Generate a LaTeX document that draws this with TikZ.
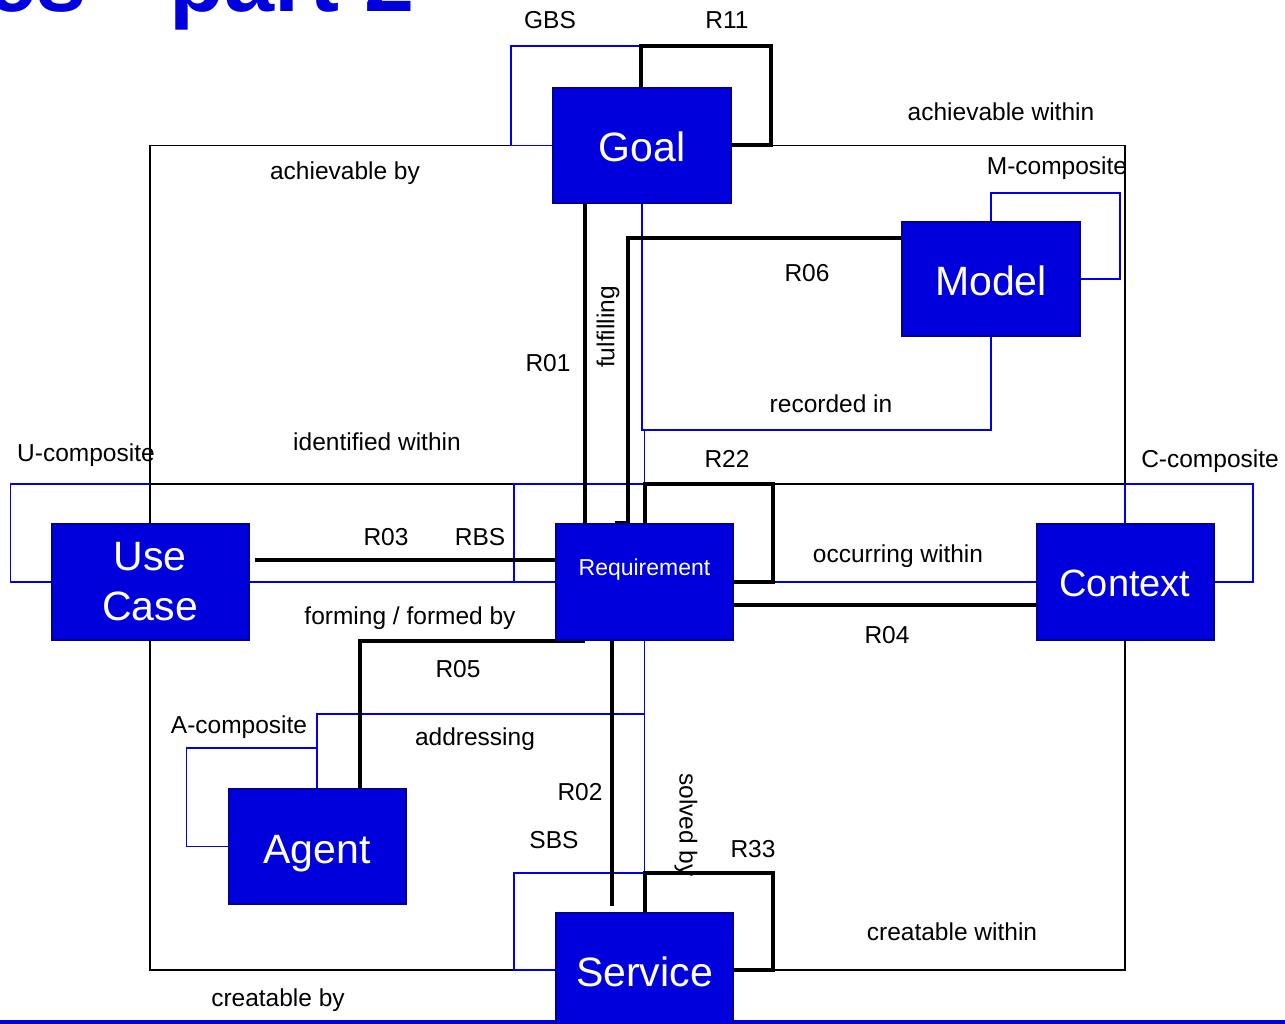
\documentclass[tikz,border=0pt]{standalone}
\usepackage{fontspec}
\setmainfont{Liberation Sans}
\usetikzlibrary{calc}
\definecolor{boxfill}{RGB}{0,0,221}
\definecolor{boxedge}{RGB}{0,0,150}
\definecolor{lnblue}{RGB}{0,0,235}
\pgfdeclarelayer{paper}
\pgfdeclarelayer{bg}
\pgfsetlayers{paper,bg,main}
\begin{document}
\begin{tikzpicture}[x=1pt,y=-1pt,
  entity/.style={draw=boxedge, fill=boxfill, line width=2pt, text=white, inner sep=0pt, align=center, font=\fontsize{41}{50}\selectfont},
  oneline/.style={text height=33pt, text depth=0pt},
  lbl/.style={inner sep=0pt, font=\fontsize{24.5}{28}\selectfont},
  thinlink/.style={draw=black, line width=1.4pt},
  bluelink/.style={draw=lnblue, line width=1.4pt},
  rel/.style={draw=black, line width=4pt, line join=miter},
]
\useasboundingbox (0,0) rectangle (1285,1024);
\clip (0,0) rectangle (1285,1024);
\begin{pgfonlayer}{paper}
  \fill[white] (0,0) rectangle (1285,1024);
  \fill[boxfill] (0,1019.5) rectangle (1285,1024);
\end{pgfonlayer}

% title (clipped at the top)
\node[anchor=base east, text=boxfill, inner sep=0pt, font=\fontsize{90}{90}\selectfont\bfseries] (title) at (415,12) {es\kern-17pt{} – part 2};

% entities
\node[entity, oneline, minimum width=178pt, minimum height=115pt] (goal) at (642,145.5) {Goal};
\node[entity, oneline, minimum width=178pt, minimum height=114pt] (model) at (991,279) {Model};
\node[entity, minimum width=177pt, minimum height=116pt, label={[text=white, inner sep=0pt, font=\fontsize{23}{26}\selectfont, yshift=12pt]center:Requirement}] (req) at (644.5,582) {};
\node[entity, minimum width=197pt, minimum height=116pt] (usecase) at (150,582) {Use\\Case};
\node[entity, oneline, text height=29pt, minimum width=177pt, minimum height=116pt, font=\fontsize{38}{44}\selectfont] (context) at (1125,582) {Context};
\node[entity, oneline, minimum width=177pt, minimum height=115pt] (agent) at (317,846.5) {Agent};
\node[entity, oneline, minimum width=177pt, minimum height=114pt] (service) at (644.5,970) {Service};

% helper coordinates
\coordinate (xA) at (585,0);
\coordinate (xB) at (612,0);
\coordinate (xC) at (628,0);
\coordinate (xD) at (615,0);
\coordinate (xF) at (641,0);
\coordinate (xG) at (642,0);
\coordinate (xH) at (360,0);
\coordinate (yT) at (0,46);
\coordinate (yA) at (0,238);
\coordinate (yR) at (0,430);
\coordinate (yD) at (0,484);
\coordinate (yB) at (0,560);
\coordinate (yC) at (0,605);
\coordinate (yS) at (0,714);
\coordinate (yU) at (0,748);
\coordinate (yV) at (0,873);

\begin{pgfonlayer}{bg}
  % thin black relations (frame)
  \draw[thinlink] (goal.west) -| (usecase.north);
  \draw[thinlink] (goal.east) -| (context.north);
  \draw[thinlink] (usecase.north) -- (usecase.north |- yD) -- (context.north |- yD) -- (context.north);
  \draw[thinlink] (service.west) -| (usecase.south);
  \draw[thinlink] (service.east) -| (context.south);

  % blue relations
  \draw[bluelink] (goal.west) -- ++(-41,0) |- (xF |- yT) -- (goal.north -| xF);
  \draw[bluelink] (goal.south -| xG) -- (xG |- yR) -| (req.north);
  \draw[bluelink] (model.south) |- (req.north |- yR) -- (req.north);
  \draw[bluelink] (model.north) |- (1120,193) |- (model.east);
  \draw[bluelink] (req.west) -- ++(-41,0) |- (req.north |- yD) -- (req.north);
  \draw[bluelink] (usecase.west) -- ++(-40,0) |- (usecase.north |- yD);
  \draw[bluelink] (usecase.east) -- (req.west);
  \draw[bluelink] (req.east) -- (context.west);
  \draw[bluelink] (context.north) |- (1253,484) |- (context.east);
  \draw[bluelink] (req.south) |- (agent.north |- yS) -- (agent.north);
  \draw[bluelink] (agent.west) -- ++(-41,0) |- (agent.north |- yU) -- (agent.north);
  \draw[bluelink] (req.south) -- (service.north);
  \draw[bluelink] (service.west) -- ++(-41,0) |- (service.north |- yV) -- (service.north);

  % thick black relations
  \draw[rel] (goal.north -| xF) |- (771,46) |- (goal.east);
  \draw[rel] (goal.south -| xA) -- (req.north -| xA);
  \draw[rel] (model.west |- yA) -| (req.north -| xC) -- (req.north -| xD);
  \draw[rel] (req.north) |- (773,484) |- (req.east);
  \draw[rel, shorten <=5pt] (usecase.east |- yB) -- (req.west |- yB);
  \draw[rel] (req.east |- yC) -- (context.west |- yC);
  \draw[rel] (req.south -| xA) -| (agent.north -| xH);
  \draw[rel, shorten >=6pt] (req.south -| xB) -- (service.north -| xB);
  \draw[rel] (service.north) |- (773,873) |- (service.east);
\end{pgfonlayer}

% labels
\node[lbl] (lGBS) at (550,20) {GBS};
\node[lbl] (lR11) at (727,20) {R11};
\node[lbl] (lachw) at (1001,112) {achievable within};
\node[lbl] (lachb) at (345,173) {achievable by};
\node[lbl] (lMc) at (1057,168) {M-composite};
\node[lbl] (lR06) at (807,273) {R06};
\node[lbl] (lR01) at (548,363) {R01};
\node[lbl, rotate=90] (lful) at (608,327) {fulfilling};
\node[lbl] (lrec) at (831,404) {recorded in};
\node[lbl] (lidw) at (377,442) {identified within};
\node[lbl] (lUc) at (86,455) {U-composite};
\node[lbl] (lR22) at (727,459) {R22};
\node[lbl] (lCc) at (1210,461) {C-composite};
\node[lbl] (lR03) at (386,537) {R03};
\node[lbl] (lRBS) at (480,537) {RBS};
\node[lbl] (locc) at (898,556) {occurring within};
\node[lbl] (lform) at (410,618) {forming / formed by};
\node[lbl] (lR04) at (887,635) {R04};
\node[lbl] (lR05) at (458,669) {R05};
\node[lbl] (lAc) at (239,727) {A-composite};
\node[lbl] (ladd) at (475,739) {addressing};
\node[lbl] (lR02) at (580,792) {R02};
\node[lbl, rotate=-90] (lsol) at (686,825) {solved by};
\node[lbl] (lSBS) at (554,840) {SBS};
\node[lbl] (lR33) at (753,849) {R33};
\node[lbl] (lcrw) at (952,932) {creatable within};
\node[lbl] (lcrb) at (278,1000) {creatable by};
\end{tikzpicture}
\end{document}
